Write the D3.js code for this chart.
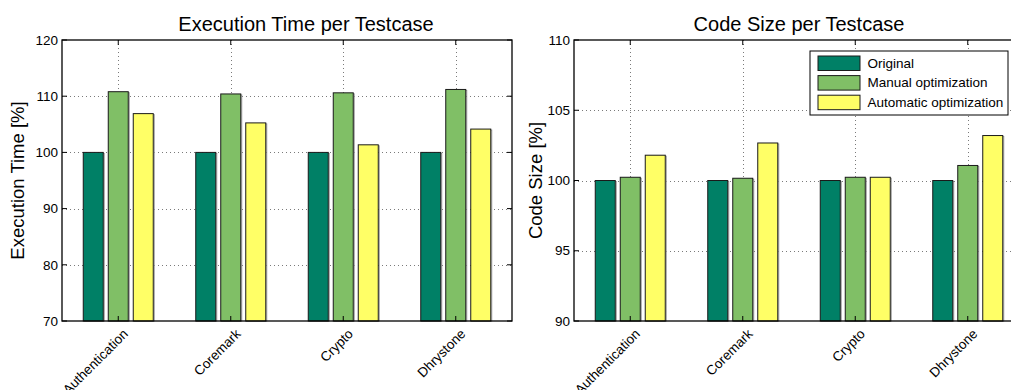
<!DOCTYPE html>
<html>
<head>
<meta charset="utf-8">
<script src="https://cdn.jsdelivr.net/npm/d3@7"></script>
<style>
  html, body { margin: 0; padding: 0; background: #fff; }
  svg { display: block; overflow: hidden; }
  text { font-family: "Liberation Sans", Arial, Helvetica, sans-serif; fill: #000; }
</style>
</head>
<body>
<svg id="chart" width="1011" height="390"></svg>
<script>
// Test cases on the x axis
const categories = ["Authentication", "Coremark", "Crypto", "Dhrystone"];
// Series names and colours (summer colormap)
const seriesNames = ["Original", "Manual optimization", "Automatic optimization"];
const seriesColors = ["#008066", "#80bf66", "#ffff66"];

// Execution time per test case, percent of original
const execOriginal = [100, 100, 100, 100];
const execManual = [110.8, 110.4, 110.6, 111.2];
const execAutomatic = [106.9, 105.25, 101.35, 104.15];
const execTicks = [70, 80, 90, 100, 110, 120];

// Code size per test case, percent of original
const sizeOriginal = [100, 100, 100, 100];
const sizeManual = [100.23, 100.16, 100.23, 101.07];
const sizeAutomatic = [101.8, 102.67, 100.23, 103.2];
const sizeTicks = [90, 95, 100, 105, 110];

const svg = d3.select("#chart");

function panel(opts) {
  const { left, right, top, bottom, yDomain, yTicks, series, title, titleX, yLabel, yLabelX } = opts;
  const g = svg.append("g");

  const x = d3.scaleLinear().domain([0.5, categories.length + 0.5]).range([left, right]);
  const y = d3.scaleLinear().domain(yDomain).range([bottom, top]);

  // grouped bar geometry: three bars per group
  const nSeries = series.length;
  const groupWidth = Math.min(0.8, nSeries / (nSeries + 1.5));
  const step = groupWidth / nSeries;
  const barW = step * 0.8;
  const barPx = x(barW) - x(0);

  // dotted grid
  const grid = g.append("g").attr("stroke", "#7a7a7a").attr("stroke-width", 1)
    .attr("stroke-dasharray", "1,3").attr("shape-rendering", "crispEdges");
  grid.selectAll("line.h").data(yTicks.slice(1, -1)).join("line")
    .attr("x1", left).attr("x2", right)
    .attr("y1", d => Math.round(y(d)) + 0.5).attr("y2", d => Math.round(y(d)) + 0.5);
  grid.selectAll("line.v").data(categories.map((c, i) => i + 1)).join("line")
    .attr("x1", d => Math.round(x(d)) + 0.5).attr("x2", d => Math.round(x(d)) + 0.5)
    .attr("y1", top).attr("y2", bottom);

  // bars
  series.forEach((vals, si) => {
    const off = (si - (nSeries - 1) / 2) * step;
    const base = yDomain[0];
    // faint shadow edge
    g.append("g").selectAll("rect").data(vals).join("rect")
      .attr("x", (d, i) => x(i + 1 + off) - barPx / 2 + 1)
      .attr("y", d => y(d) + 1)
      .attr("width", barPx)
      .attr("height", d => y(base) - y(d) - 1)
      .attr("fill", "none").attr("stroke", "#9a9a9a").attr("stroke-width", 1);
    g.append("g").selectAll("rect").data(vals).join("rect")
      .attr("x", (d, i) => x(i + 1 + off) - barPx / 2)
      .attr("y", d => y(d))
      .attr("width", barPx)
      .attr("height", d => y(base) - y(d))
      .attr("fill", seriesColors[si]).attr("stroke", "#1a1a1a").attr("stroke-width", 1);
  });

  // box
  g.append("rect").attr("x", left).attr("y", top)
    .attr("width", right - left).attr("height", bottom - top)
    .attr("fill", "none").attr("stroke", "#000").attr("stroke-width", 1.3);

  // inward ticks on all four sides
  const tk = g.append("g").attr("stroke", "#000").attr("stroke-width", 1);
  const tl = 5;
  yTicks.forEach(t => {
    const yy = y(t);
    tk.append("line").attr("x1", left).attr("x2", left + tl).attr("y1", yy).attr("y2", yy);
    tk.append("line").attr("x1", right).attr("x2", right - tl).attr("y1", yy).attr("y2", yy);
  });
  categories.forEach((c, i) => {
    const xx = x(i + 1);
    tk.append("line").attr("x1", xx).attr("x2", xx).attr("y1", top).attr("y2", top + tl);
    tk.append("line").attr("x1", xx).attr("x2", xx).attr("y1", bottom).attr("y2", bottom - tl);
  });

  // y tick labels
  g.append("g").selectAll("text").data(yTicks).join("text")
    .attr("x", left - 4).attr("y", d => y(d)).attr("dy", "0.35em")
    .attr("text-anchor", "end").attr("font-size", 13.5).text(d => d);

  // rotated x tick labels
  g.append("g").selectAll("text").data(categories).join("text")
    .attr("transform", (d, i) => `translate(${x(i + 1) + 4},${bottom + 7}) rotate(-45)`)
    .attr("text-anchor", "end").attr("dy", "0.7em").attr("font-size", 13.5).text(d => d);

  // title
  g.append("text").attr("x", titleX).attr("y", 31)
    .attr("text-anchor", "middle").attr("font-size", 20).text(title);

  // y label
  g.append("text")
    .attr("transform", `translate(${yLabelX},${(top + bottom) / 2}) rotate(-90)`)
    .attr("text-anchor", "middle").attr("font-size", 18.5).text(yLabel);

  return { g, x, y };
}

panel({
  left: 62, right: 512, top: 40, bottom: 321,
  yDomain: [70, 120], yTicks: execTicks,
  series: [execOriginal, execManual, execAutomatic],
  title: "Execution Time per Testcase", titleX: 306,
  yLabel: "Execution Time [%]", yLabelX: 24
});

panel({
  left: 574, right: 1024, top: 40, bottom: 321,
  yDomain: [90, 110], yTicks: sizeTicks,
  series: [sizeOriginal, sizeManual, sizeAutomatic],
  title: "Code Size per Testcase", titleX: 799,
  yLabel: "Code Size [%]", yLabelX: 542
});

// legend
const lg = svg.append("g").attr("transform", "translate(810,51)");
lg.append("rect").attr("x", 0).attr("y", 0).attr("width", 198).attr("height", 64)
  .attr("fill", "#fff").attr("stroke", "#000").attr("stroke-width", 1);
seriesNames.forEach((name, i) => {
  const cy = 12 + i * 19.6;
  lg.append("rect").attr("x", 8).attr("y", cy - 7).attr("width", 42).attr("height", 14.5)
    .attr("fill", seriesColors[i]).attr("stroke", "#1a1a1a").attr("stroke-width", 1);
  lg.append("text").attr("x", 57.5).attr("y", cy).attr("dy", "0.36em")
    .attr("font-size", 13.5).text(name);
});
</script>
</body>
</html>
